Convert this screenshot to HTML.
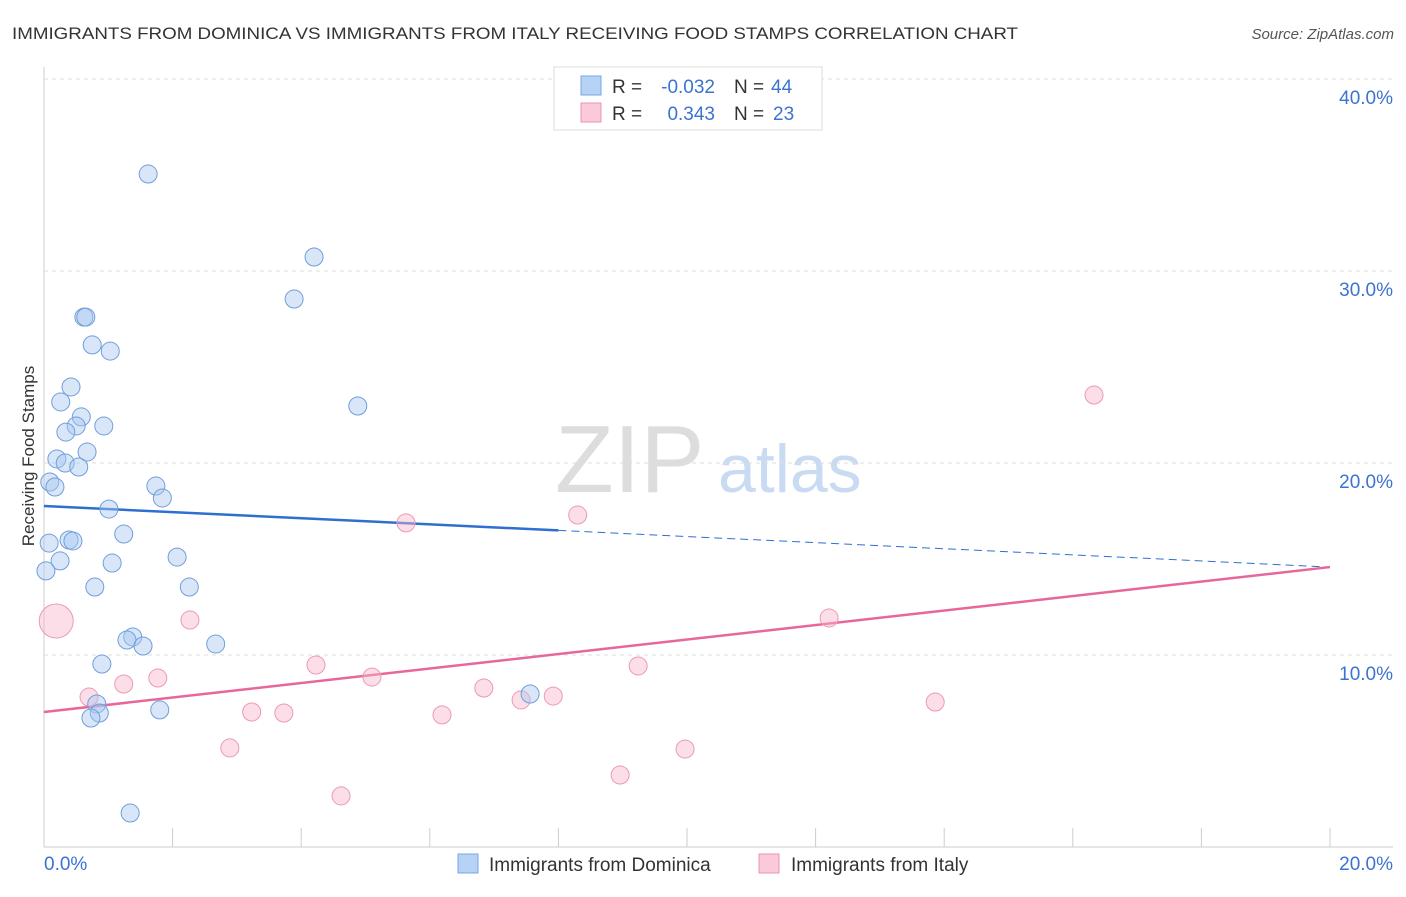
<!DOCTYPE html>
<html><head><meta charset="utf-8"><style>
body{margin:0;background:#fff;font-family:"Liberation Sans",sans-serif;}
svg text{font-family:"Liberation Sans",sans-serif;}
</style></head><body>
<svg id="chart" width="1406" height="892">
<text x="12" y="39" font-size="17" fill="#333" textLength="1006" lengthAdjust="spacingAndGlyphs">IMMIGRANTS FROM DOMINICA VS IMMIGRANTS FROM ITALY RECEIVING FOOD STAMPS CORRELATION CHART</text>
<text x="1394" y="39" font-size="15" fill="#555" font-style="italic" text-anchor="end">Source: ZipAtlas.com</text>
<text x="34" y="456" font-size="17" fill="#333" text-anchor="middle" transform="rotate(-90 34 456)">Receiving Food Stamps</text>
<g>
<text x="555" y="492" font-size="96" fill="#ddd" font-family="Liberation Serif,serif">ZIP</text>
<text x="718" y="492" font-size="68" fill="#c9dbf3">atlas</text>
</g>
<g id="grid"></g>
<g id="lines"></g>
<g id="points"></g>
<g>
<rect x="554" y="67" width="268" height="63" fill="#fff" stroke="#ddd"/>
<rect x="581" y="76" width="20" height="19" fill="#b6d2f5" stroke="#7aa6e0"/>
<rect x="581" y="103" width="20" height="19" fill="#fbcad8" stroke="#eb96b0"/>
<text x="612" y="93" font-size="19" fill="#333">R =</text>
<text x="715" y="93" font-size="19" fill="#3b73d1" text-anchor="end">-0.032</text>
<text x="734" y="93" font-size="19" fill="#333">N =</text>
<text x="771" y="93" font-size="19" fill="#3b73d1">44</text>
<text x="612" y="120" font-size="19" fill="#333">R =</text>
<text x="715" y="120" font-size="19" fill="#3b73d1" text-anchor="end">0.343</text>
<text x="734" y="120" font-size="19" fill="#333">N =</text>
<text x="773" y="120" font-size="19" fill="#3b73d1">23</text>
</g>
<g>
<rect x="458" y="854" width="20" height="19" fill="#b6d2f5" stroke="#7aa6e0"/>
<text x="489" y="871" font-size="19" fill="#333">Immigrants from Dominica</text>
<rect x="759" y="854" width="20" height="19" fill="#fbcad8" stroke="#eb96b0"/>
<text x="791" y="871" font-size="19" fill="#333">Immigrants from Italy</text>
</g>
</svg>
<script>
const blueX=[1.62,4.20,3.89,0.62,0.65,0.75,1.03,0.42,0.26,0.58,0.50,0.93,0.34,0.67,0.20,0.33,0.54,0.09,0.17,1.74,1.84,1.01,1.24,0.39,0.45,0.08,0.25,1.06,2.07,0.03,0.79,2.26,1.38,1.29,1.54,2.67,0.90,1.80,0.82,0.86,0.73,1.34,4.88,7.56];
const blueY=[35.05,30.73,28.54,27.6,27.6,26.15,25.83,23.96,23.18,22.4,21.93,21.93,21.61,20.57,20.21,20.0,19.79,19.01,18.75,18.8,18.18,17.6,16.3,15.99,15.94,15.83,14.9,14.79,15.1,14.38,13.54,13.54,10.94,10.78,10.47,10.57,9.53,7.14,7.45,6.98,6.72,1.77,22.97,7.97];
const pinkX=[0.19,16.33,5.63,8.30,12.21,2.27,4.23,5.10,9.24,0.70,1.24,1.77,3.23,3.73,6.84,7.42,7.92,6.19,13.86,2.89,9.97,8.96,4.62];
const pinkY=[11.77,23.54,16.88,17.29,11.93,11.82,9.48,8.85,9.43,7.81,8.49,8.80,7.03,6.98,8.28,7.66,7.86,6.88,7.55,5.16,5.10,3.75,2.66];
const pinkR=[17,9,9,9,9,9,9,9,9,9,9,9,9,9,9,9,9,9,9,9,9,9,9];
const blueTrend=[17.76,14.58];
const pinkTrend=[7.03,14.58];
const blueSolidEnd=8.0;
const yTicks=[10,20,30,40];
const yTickLabels=["10.0%","20.0%","30.0%","40.0%"];
const xTicks=[0,2,4,6,8,10,12,14,16,18,20];

const NS="http://www.w3.org/2000/svg";
const sx=v=>44+v*64.3;
const sy=v=>847-v*19.2;
function mk(tag,attrs,parent){const e=document.createElementNS(NS,tag);for(const k in attrs)e.setAttribute(k,attrs[k]);document.getElementById(parent).appendChild(e);return e;}
let e=mk('line',{x1:44,y1:67,x2:44,y2:847,stroke:'#ccc'},'grid');


e=mk('line',{x1:44,y1:847,x2:1393,y2:847,stroke:'#ccc'},'grid');


yTicks.forEach((t,i)=>{
 let g=mk('line',{x1:44,y1:sy(t),x2:1393,y2:sy(t),stroke:'#ddd','stroke-dasharray':'4 4'},'grid');
 
 
 let l=mk('text',{x:1393,y:sy(t)+25,'font-size':19,fill:'#3b73d1','text-anchor':'end'},'grid');
 l.textContent=yTickLabels[i];
 
 
});
xTicks.forEach(t=>{
 if(t===0)return;
 let k=mk('line',{x1:sx(t),y1:828,x2:sx(t),y2:847,stroke:'#ccc'},'grid');
 
 
});
let xl=mk('text',{x:44,y:870,'font-size':19,fill:'#3b73d1'},'grid');xl.textContent='0.0%';


let xr=mk('text',{x:1393,y:870,'font-size':19,fill:'#3b73d1','text-anchor':'end'},'grid');xr.textContent='20.0%';



pinkX.forEach((x,i)=>{
 let c=mk('circle',{cx:sx(x),cy:sy(pinkY[i]),r:pinkR[i],fill:'#f7b6cb','fill-opacity':0.45,stroke:'#ec9ab3','stroke-width':1},'points');
 
 
});
blueX.forEach((x,i)=>{
 let c=mk('circle',{cx:sx(x),cy:sy(blueY[i]),r:9,fill:'#a9c8f0','fill-opacity':0.45,stroke:'#6f9fdc','stroke-width':1},'points');
 
 
});
const by=x=>blueTrend[0]+(blueTrend[1]-blueTrend[0])*x/20;
let b1=mk('line',{x1:sx(0),y1:sy(by(0)),x2:sx(blueSolidEnd),y2:sy(by(blueSolidEnd)),stroke:'#2f6fd0','stroke-width':2.5},'lines');


let b2=mk('line',{x1:sx(blueSolidEnd),y1:sy(by(blueSolidEnd)),x2:sx(20),y2:sy(by(20)),stroke:'#2f6fd0','stroke-width':1,'stroke-dasharray':'8 5'},'lines');


let p1=mk('line',{x1:sx(0),y1:sy(pinkTrend[0]),x2:sx(20),y2:sy(pinkTrend[1]),stroke:'#e8679a','stroke-width':2.5},'lines');


</script>
</body></html>
